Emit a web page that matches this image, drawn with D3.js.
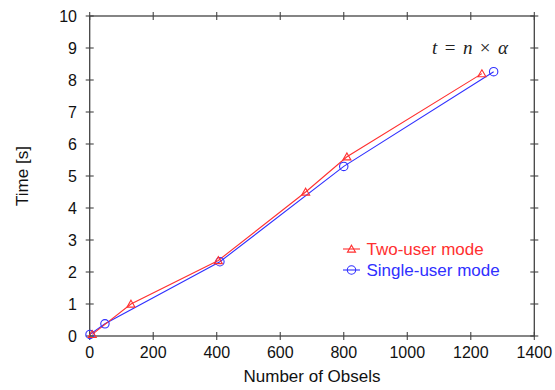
<!DOCTYPE html>
<html><head><meta charset="utf-8">
<script src="https://cdn.jsdelivr.net/npm/d3@7"></script>
<style>body{margin:0;background:#fff}svg{display:block}text{font-family:"Liberation Sans",Arial,sans-serif}</style>
</head><body><svg id="c" width="555" height="390"></svg>
<script>
const twoX = [8, 130, 405, 680, 810, 1235];
const twoY = [0.05, 1.0, 2.36, 4.5, 5.6, 8.2];
const singleX = [1, 48, 410, 800, 1272];
const singleY = [0.05, 0.38, 2.32, 5.3, 8.26];
const xTicks = [0, 200, 400, 600, 800, 1000, 1200, 1400];
const yTicks = [0,1,2,3,4,5,6,7,8,9,10];
const seriesNames = ["Two-user mode", "Single-user mode"];
const colors = ["#ff3030", "#3030ff"];

const svg = d3.select("#c");
const L=89.7, R=534.3, T=16, B=336;
const x = d3.scaleLinear().domain([0,1400]).range([L,R]);
const y = d3.scaleLinear().domain([0,10]).range([B,T]);
const axisCol = "#444";

svg.append("rect").attr("x",L).attr("y",T).attr("width",R-L).attr("height",B-T)
  .attr("fill","none").attr("stroke",axisCol).attr("stroke-width",1.3);

const tl = 4;
xTicks.forEach(v=>{
  [B,T].forEach(yy=>svg.append("line").attr("x1",x(v)).attr("x2",x(v)).attr("y1",yy-tl).attr("y2",yy+tl)
    .attr("stroke",axisCol).attr("stroke-width",1.1));
  svg.append("text").attr("x",x(v)).attr("y",358).attr("text-anchor","middle")
    .attr("font-size",16).attr("fill","#111").text(v);
});
yTicks.forEach(v=>{
  [L,R].forEach(xx=>svg.append("line").attr("x1",xx-tl).attr("x2",xx+tl).attr("y1",y(v)).attr("y2",y(v))
    .attr("stroke",axisCol).attr("stroke-width",1.1));
  svg.append("text").attr("x",77).attr("y",y(v)+6).attr("text-anchor","end")
    .attr("font-size",16).attr("fill","#111").text(v);
});

svg.append("text").attr("x",312).attr("y",382).attr("text-anchor","middle")
  .attr("font-size",17).attr("fill","#111").text("Number of Obsels");
svg.append("text").attr("transform","translate(28,176) rotate(-90)").attr("text-anchor","middle")
  .attr("font-size",17).attr("fill","#111").text("Time [s]");

const eq = svg.append("text").attr("x",432).attr("y",54).attr("text-anchor","start")
  .attr("font-size",19).attr("fill","#222").attr("textLength",76).attr("lengthAdjust","spacing")
  .style("font-family","'Liberation Serif','DejaVu Serif',serif");
eq.append("tspan").attr("font-style","italic").text("t");
eq.append("tspan").text(" = ");
eq.append("tspan").attr("font-style","italic").text("n");
eq.append("tspan").text(" × ");
eq.append("tspan").attr("font-style","italic").text("α");

const line = d3.line().x(d=>x(d[0])).y(d=>y(d[1]));
const twoData = twoX.map((v,i)=>[v,twoY[i]]);
const singleData = singleX.map((v,i)=>[v,singleY[i]]);

const triPath = d3.symbol().type(d3.symbolTriangle).size(28);
function tri(g, cx, cy, col){
  g.append("path").attr("d",triPath()).attr("transform",`translate(${cx},${cy+0.8})`)
   .attr("fill","none").attr("stroke",col).attr("stroke-width",1.1);
}
function circ(g, cx, cy, col){
  g.append("circle").attr("cx",cx).attr("cy",cy).attr("r",4.2)
   .attr("fill","none").attr("stroke",col).attr("stroke-width",1.1);
}

svg.append("path").datum(singleData).attr("d",line).attr("fill","none").attr("stroke",colors[1]).attr("stroke-width",1.1);
svg.append("path").datum(twoData).attr("d",line).attr("fill","none").attr("stroke",colors[0]).attr("stroke-width",1.1);
const gm = svg.append("g");
singleData.forEach(d=>circ(gm,x(d[0]),y(d[1]),colors[1]));
twoData.forEach(d=>tri(gm,x(d[0]),y(d[1]),colors[0]));

const lg = svg.append("g");
[0,1].forEach(i=>{
  const ly = 249 + i*21;
  lg.append("line").attr("x1",343).attr("x2",360).attr("y1",ly).attr("y2",ly).attr("stroke",colors[i]).attr("stroke-width",1.1);
  if(i===0) tri(lg,351.5,ly,colors[i]); else circ(lg,351.5,ly,colors[i]);
  lg.append("text").attr("x",366.5).attr("y",ly+6).attr("font-size",17).attr("fill",colors[i]).text(seriesNames[i]);
});
</script></body></html>
